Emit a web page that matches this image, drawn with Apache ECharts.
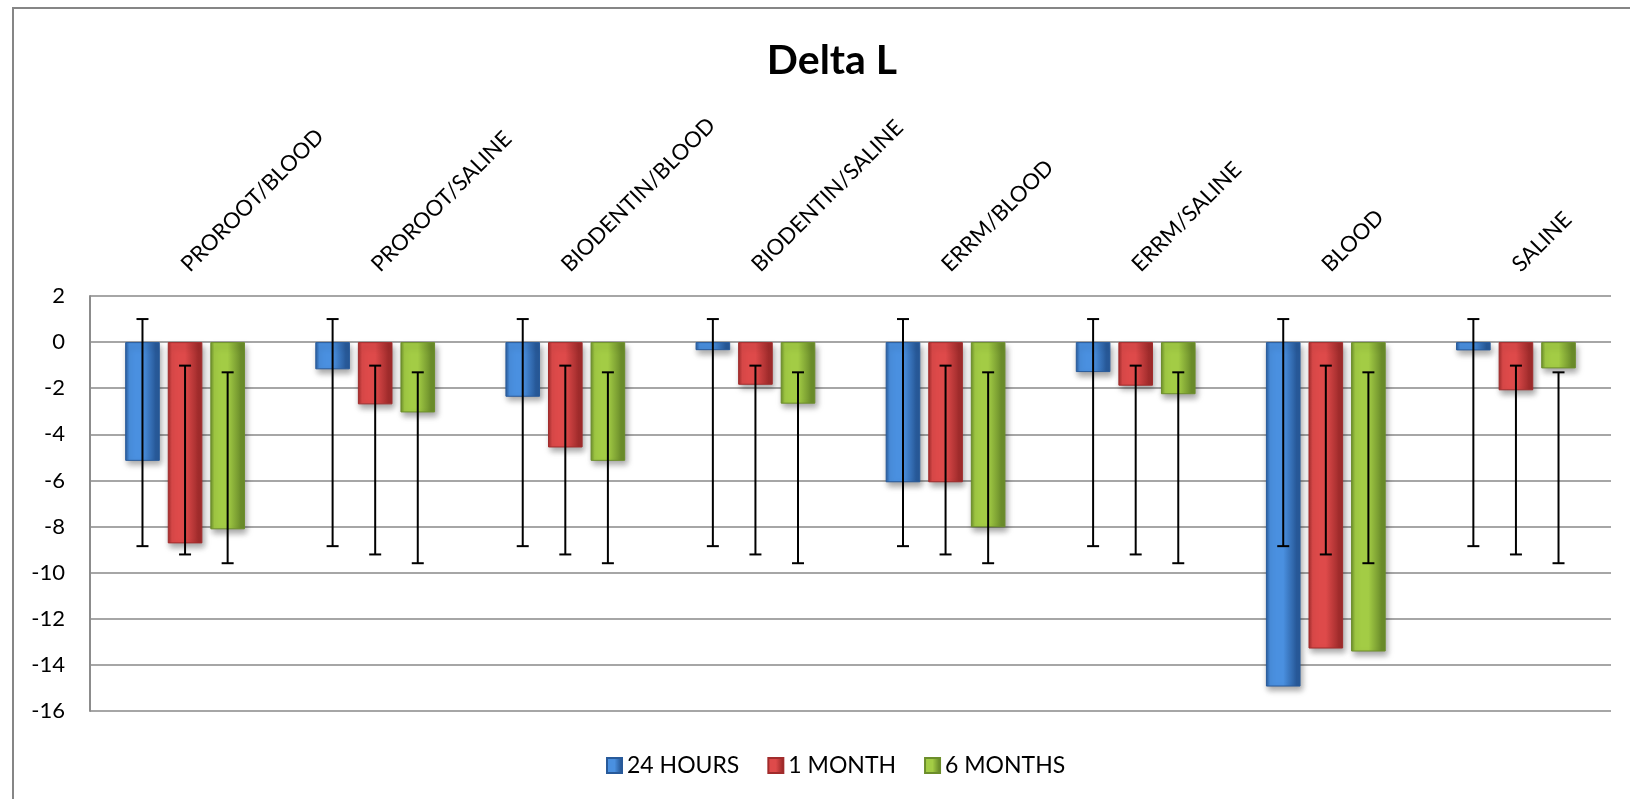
<!DOCTYPE html>
<html>
<head>
<meta charset="utf-8">
<script src="https://cdn.jsdelivr.net/npm/echarts@6/dist/echarts.min.js"></script>
<style>
  html, body { margin: 0; padding: 0; background: #fff; }
  #chart { width: 1630px; height: 799px; }
</style>
</head>
<body>
<div id="chart"></div>
<script>
const categories = [
  "PROROOT/BLOOD", "PROROOT/SALINE", "BIODENTIN/BLOOD", "BIODENTIN/SALINE",
  "ERRM/BLOOD", "ERRM/SALINE", "BLOOD", "SALINE"
];
const seriesNames = ["24 HOURS", "1 MONTH", "6 MONTHS"];

const hours24 = [-5.15, -1.18, -2.37, -0.35, -6.08, -1.3, -14.94, -0.36];
const month1 = [-8.73, -2.7, -4.57, -1.85, -6.08, -1.89, -13.29, -2.09];
const months6 = [-8.12, -3.05, -5.15, -2.67, -8.03, -2.26, -13.42, -1.14];

// error bar ends (upper / lower) as drawn in the picture
const errHigh24 = [1.0, 1.0, 1.0, 1.0, 1.0, 1.0, 1.0, 1.0];
const errLow24 = [-8.85, -8.85, -8.85, -8.85, -8.85, -8.85, -8.85, -8.85];
const errHigh1m = [-1.02, -1.02, -1.02, -1.02, -1.02, -1.02, -1.02, -1.02];
const errLow1m = [-9.21, -9.21, -9.21, -9.21, -9.21, -9.21, -9.21, -9.21];
const errHigh6m = [-1.31, -1.31, -1.31, -1.31, -1.31, -1.31, -1.31, -1.31];
const errLow6m = [-9.59, -9.59, -9.59, -9.59, -9.59, -9.59, -9.59, -9.59];

const values = [hours24, month1, months6];
const errHigh = [errHigh24, errHigh1m, errHigh6m];
const errLow = [errLow24, errLow1m, errLow6m];

const palette = [
  { light: "#4a90e0", dark: "#285a9a", legend: "#3f78c2" },
  { light: "#de4a4a", dark: "#a12c2c", legend: "#c63c3c" },
  { light: "#a3cc45", dark: "#6c8e2b", legend: "#8db33a" }
];

const CAT_GAP = 0.37;
const BAR_GAP = 0.23;

function barFill(c) {
  return new echarts.graphic.LinearGradient(0, 0, 1, 0, [
    { offset: 0, color: c.dark },
    { offset: 0.12, color: c.light },
    { offset: 0.5, color: c.light },
    { offset: 0.88, color: c.dark },
    { offset: 1, color: c.dark }
  ]);
}

const font = "Lato";

const barSeries = values.map((vals, i) => ({
  name: seriesNames[i],
  type: "bar",
  data: vals,
  barGap: (BAR_GAP * 100) + "%",
  barCategoryGap: (CAT_GAP * 100) + "%",
  itemStyle: {
    color: barFill(palette[i]),
    borderColor: palette[i].dark,
    borderWidth: 1,
    shadowColor: "rgba(0,0,0,0.35)",
    shadowBlur: 6,
    shadowOffsetX: 2,
    shadowOffsetY: 4
  }
}));

const errorSeries = values.map((vals, i) => ({
  name: seriesNames[i],
  type: "custom",
  z: 5,
  data: categories.map((c, k) => [k, errHigh[i][k], errLow[i][k]]),
  encode: { x: 0, y: [1, 2] },
  renderItem: function (params, api) {
    const k = api.value(0);
    const hi = api.coord([k, api.value(1)]);
    const lo = api.coord([k, api.value(2)]);
    const w = api.size([1, 0])[0];
    const groupW = w * (1 - CAT_GAP);
    const bw = groupW / (3 + 2 * BAR_GAP);
    const x = hi[0] - groupW / 2 + bw / 2 + i * bw * (1 + BAR_GAP);
    const cap = 6;
    const style = { stroke: "#000", lineWidth: 2 };
    return {
      type: "group",
      children: [
        { type: "line", shape: { x1: x, y1: hi[1], x2: x, y2: lo[1] }, style: style },
        { type: "line", shape: { x1: x - cap, y1: hi[1], x2: x + cap, y2: hi[1] }, style: style },
        { type: "line", shape: { x1: x - cap, y1: lo[1], x2: x + cap, y2: lo[1] }, style: style }
      ]
    };
  }
}));

const chart = echarts.init(document.getElementById("chart"));
chart.setOption({
  animation: false,
  color: palette.map(p => p.legend),
  title: {
    text: "Delta L",
    left: 827,
    top: 35,
    textAlign: "center",
    textStyle: { fontFamily: font, fontSize: 41, fontWeight: "bold", color: "#000" }
  },
  graphic: [{
    type: "rect",
    shape: { x: 13, y: 8, width: 1640, height: 820 },
    style: { fill: "none", stroke: "#868686", lineWidth: 2 },
    silent: true
  }],
  legend: {
    data: seriesNames,
    bottom: 17,
    left: 601,
    icon: "rect",
    itemWidth: 15,
    itemHeight: 15,
    itemGap: 28,
    textStyle: { fontFamily: font, fontSize: 23, color: "#000" }
  },
  grid: { left: 90, right: 19, top: 296, bottom: 88, containLabel: false },
  xAxis: {
    type: "category",
    data: categories,
    position: "top",
    axisLine: { show: false },
    axisTick: { show: false },
    axisLabel: {
      rotate: 45,
      margin: 28,
      interval: 0,
      fontFamily: font,
      fontSize: 22,
      color: "#000"
    }
  },
  yAxis: {
    type: "value",
    min: -16,
    max: 2,
    interval: 2,
    axisLine: { show: true, lineStyle: { color: "#8c8c8c", width: 2 } },
    axisTick: { show: false },
    axisLabel: { fontFamily: font, fontSize: 22, color: "#000", margin: 25 },
    splitLine: { lineStyle: { color: "#a6a6a6", width: 2 } }
  },
  series: barSeries.concat(errorSeries)
});
</script>
</body>
</html>
